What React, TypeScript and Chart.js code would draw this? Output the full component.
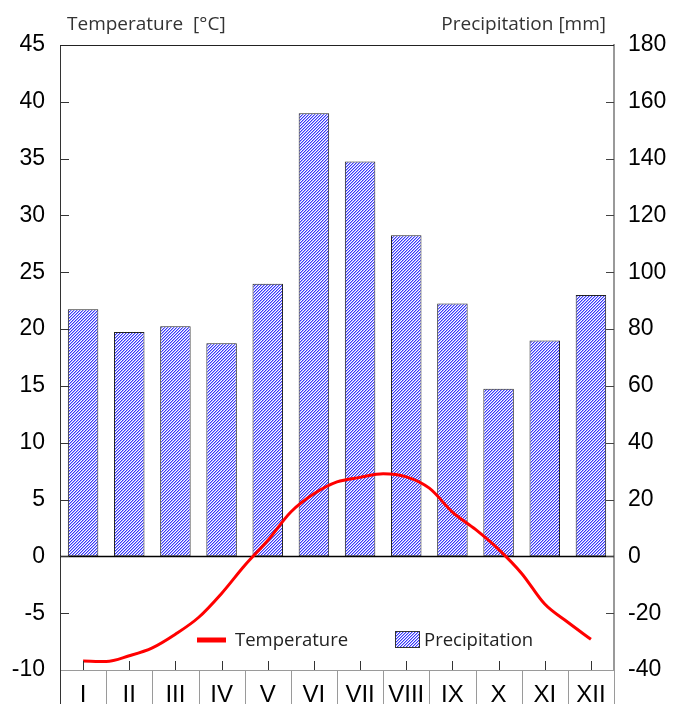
import React, { useEffect, useRef } from "react";
import { Chart, registerables } from "chart.js";
Chart.register(...registerables);

const months = ["I", "II", "III", "IV", "V", "VI", "VII", "VIII", "IX", "X", "XI", "XII"];
const precipitation = [87, 79, 81, 75, 96, 156, 139, 113, 89, 59, 76, 92];
const tempMonthIndex = [0, 0.5, 1, 1.5, 2, 2.5, 3, 3.5, 4, 4.5, 5, 5.5, 6, 6.5, 7, 7.5, 8, 8.5, 9, 9.5, 10, 10.5, 11];
const temperature = [-9.2, -9.25, -8.75, -8.05, -6.85, -5.38, -3.26, -0.8, 1.4, 3.9, 5.5, 6.55, 6.95, 7.27, 7.0, 6.0, 3.9, 2.37, 0.62, -1.5, -4.2, -5.8, -7.3];
const tempTicks = { min: -10, max: 45, step: 5 };
const precTicks = { min: -40, max: 180, step: 20 };
const leftTitle = "Temperature  [°C]";
const rightTitle = "Precipitation [mm]";
const lineLabel = "Temperature";
const barLabel = "Precipitation";

const TXT = "'Open Sans', 'Noto Sans', sans-serif";
const NUM = "'Liberation Sans', Arial, sans-serif";

function makePattern(): CanvasPattern | string {
  const c = document.createElement("canvas");
  c.width = 3;
  c.height = 3;
  const g = c.getContext("2d");
  if (!g) return "#8c8cff";
  const img = g.createImageData(3, 3);
  for (let y = 0; y < 3; y++) {
    for (let x = 0; x < 3; x++) {
      const i = (y * 3 + x) * 4;
      const k = (x + y) % 3;
      let col = [255, 255, 255];
      if (k === 2) col = [55, 55, 250];
      else if (k === 0) col = [165, 165, 255];
      img.data[i] = col[0];
      img.data[i + 1] = col[1];
      img.data[i + 2] = col[2];
      img.data[i + 3] = 255;
    }
  }
  g.putImageData(img, 0, 0);
  const p = g.createPattern(c, "repeat");
  return p || "#8c8cff";
}

export default function App() {
  const ref = useRef<HTMLCanvasElement | null>(null);
  useEffect(() => {
    document.body.style.margin = "0";
    const canvas = ref.current;
    if (!canvas) return;
    const pattern = makePattern();

    const deco = {
      id: "deco",
      beforeDatasetsDraw(chart: any) {
        const { ctx, chartArea: a, scales } = chart;
        const y0 = Math.round(scales.y.getPixelForValue(0)) + 0.5;
        ctx.save();
        ctx.strokeStyle = "#000";
        ctx.lineWidth = 1.3;
        ctx.beginPath();
        ctx.moveTo(a.left, y0);
        ctx.lineTo(a.right, y0);
        ctx.stroke();
        ctx.restore();
      },
      afterDraw(chart: any) {
        const { ctx, chartArea: a, scales } = chart;
        const H = chart.height;
        ctx.save();
        // top border
        ctx.strokeStyle = "#222";
        ctx.lineWidth = 1;
        ctx.beginPath();
        ctx.moveTo(a.left, a.top + 0.5);
        ctx.lineTo(a.right, a.top + 0.5);
        ctx.stroke();
        // left ticks inward
        ctx.strokeStyle = "#333";
        for (let v = tempTicks.min + tempTicks.step; v < tempTicks.max; v += tempTicks.step) {
          const y = Math.round(scales.y.getPixelForValue(v)) + 0.5;
          ctx.beginPath();
          ctx.moveTo(a.left, y);
          ctx.lineTo(a.left + 9, y);
          ctx.stroke();
        }
        // right ticks inward
        ctx.strokeStyle = "#444";
        for (let v = precTicks.min + precTicks.step; v < precTicks.max; v += precTicks.step) {
          const y = Math.round(scales.yR.getPixelForValue(v)) + 0.5;
          ctx.beginPath();
          ctx.moveTo(a.right, y);
          ctx.lineTo(a.right - 8, y);
          ctx.stroke();
        }
        // bottom ticks inward at category centres
        ctx.strokeStyle = "#333";
        months.forEach((_, i) => {
          const x = Math.round(scales.x.getPixelForValue(i)) + 0.5;
          ctx.beginPath();
          ctx.moveTo(x, a.bottom);
          ctx.lineTo(x, a.bottom - 9);
          ctx.stroke();
        });
        // separators below axis
        ctx.strokeStyle = "#9a9a9a";
        for (let i = 0; i <= months.length; i++) {
          const x = Math.round(scales.x.getPixelForValue(i - 0.5)) + 0.5;
          ctx.beginPath();
          ctx.moveTo(x, a.bottom);
          ctx.lineTo(x, H);
          ctx.stroke();
        }
        ctx.strokeStyle = "#333";
        ctx.beginPath();
        ctx.moveTo(a.left + 0.5, a.bottom);
        ctx.lineTo(a.left + 0.5, H);
        ctx.stroke();
        // titles
        ctx.fillStyle = "#333";
        ctx.font = `19px ${TXT}`;
        ctx.textBaseline = "alphabetic";
        ctx.textAlign = "left";
        ctx.fillText(leftTitle, a.left + 7, 30);
        ctx.textAlign = "right";
        ctx.fillText(rightTitle, a.right - 8, 30);
        // legend
        const ly = a.top + 595;
        ctx.strokeStyle = "#ff0000";
        ctx.lineWidth = 5;
        ctx.beginPath();
        ctx.moveTo(a.left + 137, ly);
        ctx.lineTo(a.left + 166, ly);
        ctx.stroke();
        ctx.fillStyle = "#222";
        ctx.textAlign = "left";
        ctx.font = `18.5px ${TXT}`;
        ctx.fillText(lineLabel, a.left + 175, ly + 6);
        ctx.fillStyle = pattern as any;
        ctx.fillRect(a.left + 335, ly - 9, 24, 16);
        ctx.strokeStyle = "#333";
        ctx.lineWidth = 1;
        ctx.strokeRect(a.left + 335.5, ly - 8.5, 24, 16);
        ctx.fillStyle = "#222";
        ctx.fillText(barLabel, a.left + 364, ly + 6);
        ctx.restore();
      },
    };

    const chart = new Chart(canvas, {
      type: "bar",
      data: {
        labels: months,
        datasets: [
          {
            type: "line",
            label: lineLabel,
            data: tempMonthIndex.map((x, i) => ({ x, y: temperature[i] })),
            xAxisID: "xT",
            yAxisID: "y",
            borderColor: "#ff0000",
            borderWidth: 3,
            pointRadius: 0,
            cubicInterpolationMode: "monotone",
            order: 0,
          } as any,
          {
            type: "bar",
            label: barLabel,
            data: precipitation,
            xAxisID: "x",
            yAxisID: "yR",
            backgroundColor: pattern as any,
            borderColor: "#222",
            borderWidth: 1,
            borderSkipped: false,
            grouped: false,
            barPercentage: 0.66,
            categoryPercentage: 1,
            order: 1,
          } as any,
        ],
      },
      options: {
        responsive: false,
        animation: false,
        devicePixelRatio: 1,
        layout: { padding: { top: 45, left: 0, right: 0, bottom: 0 } },
        plugins: { legend: { display: false }, tooltip: { enabled: false }, title: { display: false } },
        scales: {
          x: {
            type: "category",
            position: "bottom",
            offset: true,
            grid: { display: false, drawTicks: false },
            border: { display: true, color: "#9a9a9a", width: 1 },
            ticks: { color: "#000", font: { family: NUM, size: 24 }, padding: 11, maxRotation: 0, autoSkip: false },
            afterFit: (s: any) => { s.height = 34; },
          },
          xT: {
            type: "linear",
            display: false,
            offset: false,
            min: -0.5,
            max: 11.5,
          },
          y: {
            type: "linear",
            position: "left",
            min: tempTicks.min,
            max: tempTicks.max,
            ticks: { stepSize: tempTicks.step, color: "#000", font: { family: NUM, size: 23 }, padding: 15 },
            grid: { display: false, drawTicks: false },
            border: { display: true, color: "#333", width: 1 },
            afterFit: (s: any) => { s.width = 60; },
          },
          yR: {
            type: "linear",
            position: "right",
            min: precTicks.min,
            max: precTicks.max,
            ticks: { stepSize: precTicks.step, color: "#000", font: { family: NUM, size: 23 }, padding: 14 },
            grid: { display: false, drawTicks: false },
            border: { display: true, color: "#999", width: 2 },
            afterFit: (s: any) => { s.width = 59; },
          },
        },
      },
      plugins: [deco],
    } as any);
    return () => chart.destroy();
  }, []);
  return (
    <div style={{ width: 673, height: 704 }}>
      <canvas ref={ref} width={673} height={704} style={{ display: "block" }} />
    </div>
  );
}
